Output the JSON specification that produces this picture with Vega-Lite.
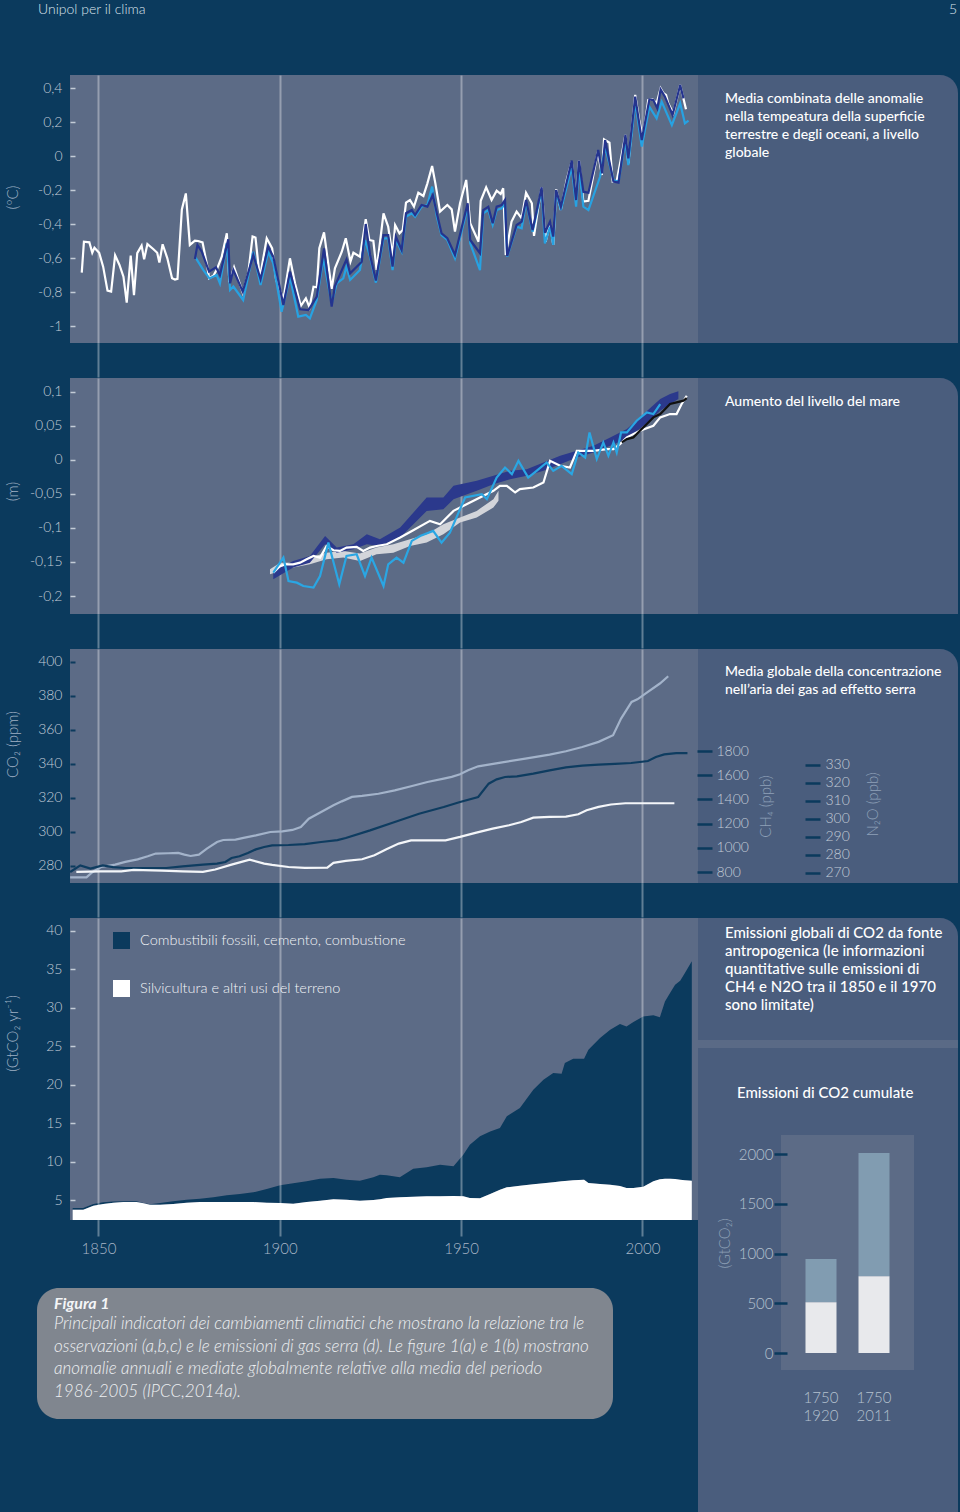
{
  "$schema": "https://vega.github.io/schema/vega-lite/v6.json",
  "padding": 0,
  "background": "#0b3a5d",
  "spacing": 0,
  "resolve": {"scale": {"color": "independent"}, "legend": {"color": "independent"}},
  "config": {
    "view": {"stroke": null},
    "font": "Lato",
    "axis": {"domain": false, "grid": false, "labelOverlap": false, "labelFont": "Lato", "labelFontWeight": 300, "labelFontSize": 14, "labelColor": "#c3ccd7", "titleFont": "Lato", "titleFontWeight": 300, "titleFontSize": 15, "titleColor": "#9fb0c4"},
    "title": {"font": "Lato", "color": "#ffffff", "fontSize": 15, "fontWeight": 500, "anchor": "start", "frame": "group", "lineHeight": 18},
    "legend": {"labelFont": "Lato"}
  },
  "datasets": {
    "tempHadCRUT4": [{"year":1845.4,"t":-0.686},{"year":1846.0,"t":-0.504},{"year":1847.5,"t":-0.508},{"year":1848.3,"t":-0.569},{"year":1848.9,"t":-0.539},{"year":1850.2,"t":-0.569},{"year":1851.3,"t":-0.651},{"year":1852.5,"t":-0.792},{"year":1853.5,"t":-0.798},{"year":1854.6,"t":-0.584},{"year":1855.8,"t":-0.641},{"year":1856.9,"t":-0.71},{"year":1857.8,"t":-0.863},{"year":1858.9,"t":-0.586},{"year":1859.8,"t":-0.818},{"year":1860.7,"t":-0.571},{"year":1861.9,"t":-0.527},{"year":1862.6,"t":-0.608},{"year":1863.5,"t":-0.518},{"year":1865.1,"t":-0.547},{"year":1866.2,"t":-0.569},{"year":1866.8,"t":-0.627},{"year":1867.7,"t":-0.519},{"year":1869.0,"t":-0.602},{"year":1870.3,"t":-0.719},{"year":1871.1,"t":-0.727},{"year":1871.8,"t":-0.723},{"year":1873.0,"t":-0.314},{"year":1874.1,"t":-0.22},{"year":1875.2,"t":-0.523},{"year":1876.6,"t":-0.498},{"year":1877.5,"t":-0.5},{"year":1878.7,"t":-0.508},{"year":1880.0,"t":-0.647},{"year":1880.5,"t":-0.719},{"year":1881.7,"t":-0.704},{"year":1882.6,"t":-0.67},{"year":1884.0,"t":-0.592},{"year":1885.4,"t":-0.455},{"year":1886.1,"t":-0.743},{"year":1887.4,"t":-0.655},{"year":1888.6,"t":-0.729},{"year":1889.8,"t":-0.804},{"year":1891.3,"t":-0.69},{"year":1892.5,"t":-0.474},{"year":1893.3,"t":-0.48},{"year":1894.5,"t":-0.719},{"year":1896.4,"t":-0.484},{"year":1897.9,"t":-0.543},{"year":1899.0,"t":-0.729},{"year":1901.0,"t":-0.843},{"year":1902.8,"t":-0.602},{"year":1904.2,"t":-0.749},{"year":1905.8,"t":-0.882},{"year":1907.2,"t":-0.837},{"year":1908.2,"t":-0.89},{"year":1909.3,"t":-0.769},{"year":1910.2,"t":-0.772},{"year":1910.9,"t":-0.543},{"year":1912.2,"t":-0.449},{"year":1914.3,"t":-0.782},{"year":1915.2,"t":-0.661},{"year":1917.1,"t":-0.563},{"year":1918.2,"t":-0.484},{"year":1919.5,"t":-0.621},{"year":1920.3,"t":-0.569},{"year":1922.1,"t":-0.592},{"year":1923.7,"t":-0.372},{"year":1924.7,"t":-0.494},{"year":1925.8,"t":-0.5},{"year":1926.7,"t":-0.67},{"year":1928.6,"t":-0.337},{"year":1929.9,"t":-0.416},{"year":1931.1,"t":-0.592},{"year":1931.8,"t":-0.406},{"year":1933.0,"t":-0.455},{"year":1933.9,"t":-0.435},{"year":1934.8,"t":-0.274},{"year":1935.9,"t":-0.259},{"year":1937.0,"t":-0.298},{"year":1938.2,"t":-0.216},{"year":1939.6,"t":-0.235},{"year":1940.7,"t":-0.161},{"year":1942.0,"t":-0.059},{"year":1942.9,"t":-0.161},{"year":1944.2,"t":-0.327},{"year":1946.2,"t":-0.288},{"year":1947.4,"t":-0.314},{"year":1948.3,"t":-0.445},{"year":1949.7,"t":-0.278},{"year":1951.4,"t":-0.141},{"year":1952.5,"t":-0.396},{"year":1954.8,"t":-0.504},{"year":1955.4,"t":-0.263},{"year":1956.9,"t":-0.184},{"year":1958.4,"t":-0.259},{"year":1959.8,"t":-0.204},{"year":1960.9,"t":-0.223},{"year":1961.6,"t":-0.19},{"year":1962.3,"t":-0.582},{"year":1963.9,"t":-0.386},{"year":1965.3,"t":-0.327},{"year":1966.7,"t":-0.367},{"year":1967.9,"t":-0.216},{"year":1969.5,"t":-0.278},{"year":1970.1,"t":-0.47},{"year":1971.3,"t":-0.298},{"year":1972.2,"t":-0.184},{"year":1973.3,"t":-0.504},{"year":1974.5,"t":-0.396},{"year":1975.4,"t":-0.523},{"year":1976.2,"t":-0.196},{"year":1977.5,"t":-0.317},{"year":1979.1,"t":-0.141},{"year":1980.5,"t":-0.033},{"year":1981.7,"t":-0.259},{"year":1982.5,"t":-0.027},{"year":1983.7,"t":-0.268},{"year":1985.1,"t":-0.263},{"year":1987.7,"t":0.026},{"year":1988.8,"t":-0.112},{"year":1989.4,"t":0.098},{"year":1990.9,"t":0.078},{"year":1991.8,"t":-0.151},{"year":1992.9,"t":-0.147},{"year":1995.3,"t":0.124},{"year":1996.1,"t":-0.043},{"year":1998.0,"t":0.359},{"year":1999.1,"t":0.212},{"year":2000.1,"t":0.104},{"year":2001.6,"t":0.329},{"year":2002.8,"t":0.333},{"year":2003.9,"t":0.31},{"year":2005.0,"t":0.398},{"year":2005.8,"t":0.369},{"year":2006.5,"t":0.359},{"year":2007.1,"t":0.31},{"year":2008.5,"t":0.251},{"year":2010.4,"t":0.418},{"year":2012.0,"t":0.275}],
    "tempMLOST": [{"year":1876.6,"t":-0.606},{"year":1877.3,"t":-0.523},{"year":1878.5,"t":-0.563},{"year":1880.5,"t":-0.68},{"year":1882.4,"t":-0.655},{"year":1883.5,"t":-0.7},{"year":1885.8,"t":-0.49},{"year":1886.3,"t":-0.749},{"year":1887.2,"t":-0.67},{"year":1889.8,"t":-0.798},{"year":1892.7,"t":-0.582},{"year":1894.7,"t":-0.725},{"year":1896.8,"t":-0.533},{"year":1898.2,"t":-0.592},{"year":1901.0,"t":-0.876},{"year":1902.8,"t":-0.68},{"year":1905.6,"t":-0.902},{"year":1907.9,"t":-0.906},{"year":1910.2,"t":-0.827},{"year":1912.2,"t":-0.543},{"year":1914.3,"t":-0.886},{"year":1915.2,"t":-0.765},{"year":1918.4,"t":-0.608},{"year":1919.4,"t":-0.69},{"year":1922.6,"t":-0.622},{"year":1923.7,"t":-0.4},{"year":1924.9,"t":-0.582},{"year":1926.5,"t":-0.733},{"year":1928.6,"t":-0.465},{"year":1929.9,"t":-0.465},{"year":1931.1,"t":-0.651},{"year":1932.0,"t":-0.474},{"year":1933.6,"t":-0.553},{"year":1934.8,"t":-0.337},{"year":1936.4,"t":-0.318},{"year":1937.3,"t":-0.347},{"year":1939.1,"t":-0.288},{"year":1940.7,"t":-0.298},{"year":1942.2,"t":-0.229},{"year":1943.3,"t":-0.337},{"year":1944.6,"t":-0.455},{"year":1946.2,"t":-0.484},{"year":1948.3,"t":-0.582},{"year":1951.8,"t":-0.278},{"year":1952.5,"t":-0.494},{"year":1955.2,"t":-0.572},{"year":1956.1,"t":-0.318},{"year":1957.5,"t":-0.298},{"year":1958.7,"t":-0.396},{"year":1959.8,"t":-0.298},{"year":1961.2,"t":-0.288},{"year":1962.1,"t":-0.259},{"year":1962.7,"t":-0.588},{"year":1965.3,"t":-0.406},{"year":1966.7,"t":-0.386},{"year":1967.9,"t":-0.259},{"year":1969.7,"t":-0.435},{"year":1972.2,"t":-0.184},{"year":1973.1,"t":-0.451},{"year":1974.5,"t":-0.386},{"year":1975.4,"t":-0.474},{"year":1976.2,"t":-0.2},{"year":1977.5,"t":-0.298},{"year":1980.5,"t":-0.027},{"year":1981.7,"t":-0.259},{"year":1982.5,"t":-0.027},{"year":1983.7,"t":-0.21},{"year":1985.1,"t":-0.216},{"year":1987.8,"t":0.035},{"year":1988.9,"t":-0.102},{"year":1989.7,"t":0.094},{"year":1992.0,"t":-0.151},{"year":1993.4,"t":-0.157},{"year":1995.3,"t":0.124},{"year":1996.1,"t":-0.014},{"year":1998.0,"t":0.349},{"year":1999.8,"t":0.094},{"year":2001.9,"t":0.333},{"year":2003.0,"t":0.329},{"year":2004.1,"t":0.28},{"year":2005.0,"t":0.392},{"year":2006.2,"t":0.349},{"year":2008.3,"t":0.241},{"year":2010.4,"t":0.418},{"year":2011.3,"t":0.339}],
    "tempGISS": [{"year":1876.6,"t":-0.592},{"year":1878.9,"t":-0.67},{"year":1880.6,"t":-0.72},{"year":1882.6,"t":-0.7},{"year":1883.5,"t":-0.749},{"year":1885.4,"t":-0.514},{"year":1886.3,"t":-0.788},{"year":1887.2,"t":-0.768},{"year":1889.9,"t":-0.847},{"year":1892.7,"t":-0.563},{"year":1894.7,"t":-0.759},{"year":1896.8,"t":-0.563},{"year":1898.2,"t":-0.631},{"year":1900.5,"t":-0.916},{"year":1902.8,"t":-0.71},{"year":1905.1,"t":-0.945},{"year":1907.2,"t":-0.935},{"year":1908.3,"t":-0.955},{"year":1910.2,"t":-0.847},{"year":1912.0,"t":-0.602},{"year":1914.3,"t":-0.867},{"year":1915.7,"t":-0.749},{"year":1917.5,"t":-0.72},{"year":1918.4,"t":-0.651},{"year":1919.4,"t":-0.729},{"year":1922.1,"t":-0.67},{"year":1923.5,"t":-0.494},{"year":1924.9,"t":-0.592},{"year":1926.5,"t":-0.745},{"year":1928.6,"t":-0.484},{"year":1929.9,"t":-0.484},{"year":1931.1,"t":-0.671},{"year":1932.0,"t":-0.494},{"year":1933.6,"t":-0.563},{"year":1934.8,"t":-0.357},{"year":1936.4,"t":-0.337},{"year":1937.3,"t":-0.357},{"year":1939.1,"t":-0.298},{"year":1940.7,"t":-0.288},{"year":1942.0,"t":-0.18},{"year":1943.3,"t":-0.357},{"year":1944.6,"t":-0.465},{"year":1946.2,"t":-0.494},{"year":1948.3,"t":-0.602},{"year":1951.8,"t":-0.298},{"year":1952.5,"t":-0.514},{"year":1955.2,"t":-0.671},{"year":1956.1,"t":-0.337},{"year":1957.5,"t":-0.318},{"year":1958.7,"t":-0.406},{"year":1959.8,"t":-0.318},{"year":1961.2,"t":-0.308},{"year":1962.1,"t":-0.278},{"year":1962.7,"t":-0.592},{"year":1965.3,"t":-0.416},{"year":1966.7,"t":-0.425},{"year":1967.9,"t":-0.268},{"year":1969.7,"t":-0.445},{"year":1972.2,"t":-0.2},{"year":1973.1,"t":-0.514},{"year":1974.5,"t":-0.416},{"year":1975.4,"t":-0.523},{"year":1976.2,"t":-0.21},{"year":1977.5,"t":-0.317},{"year":1980.5,"t":-0.063},{"year":1981.7,"t":-0.298},{"year":1982.5,"t":-0.063},{"year":1983.7,"t":-0.298},{"year":1985.1,"t":-0.318},{"year":1988.3,"t":-0.122},{"year":1989.7,"t":0.055},{"year":1992.0,"t":-0.141},{"year":1993.4,"t":-0.151},{"year":1995.3,"t":0.094},{"year":1996.1,"t":-0.053},{"year":1998.0,"t":0.32},{"year":1999.8,"t":0.055},{"year":2001.9,"t":0.29},{"year":2003.9,"t":0.222},{"year":2005.3,"t":0.32},{"year":2008.1,"t":0.182},{"year":2010.4,"t":0.31},{"year":2011.7,"t":0.192},{"year":2012.7,"t":0.208}],
    "seaBandCW": [{"year":1898.2,"v":-0.1632,"lo":-0.1755},{"year":1903.7,"v":-0.1485,"lo":-0.1583},{"year":1908.3,"v":-0.1412,"lo":-0.151},{"year":1912.5,"v":-0.1118,"lo":-0.124},{"year":1915.7,"v":-0.1289,"lo":-0.1363},{"year":1920.3,"v":-0.124,"lo":-0.1314},{"year":1924.0,"v":-0.1093,"lo":-0.124},{"year":1927.6,"v":-0.1167,"lo":-0.1265},{"year":1933.2,"v":-0.0995,"lo":-0.1142},{"year":1940.5,"v":-0.0554,"lo":-0.075},{"year":1945.1,"v":-0.0554,"lo":-0.0725},{"year":1947.9,"v":-0.0382,"lo":-0.0578},{"year":1954.3,"v":-0.0309,"lo":-0.0456},{"year":1958.9,"v":-0.0235,"lo":-0.0358},{"year":1963.5,"v":-0.0162,"lo":-0.0284},{"year":1968.1,"v":-0.0137,"lo":-0.0235},{"year":1972.7,"v":-0.0039,"lo":-0.0162},{"year":1977.3,"v":0.0059,"lo":-0.0064},{"year":1981.9,"v":0.0132,"lo":0.0034},{"year":1986.5,"v":0.0206,"lo":0.0108},{"year":1991.1,"v":0.0329,"lo":0.0206},{"year":1995.7,"v":0.0451,"lo":0.0304},{"year":2000.3,"v":0.0672,"lo":0.05},{"year":2004.9,"v":0.0892,"lo":0.0721},{"year":2007.6,"v":0.0966,"lo":0.0819},{"year":2009.9,"v":0.1005,"lo":0.0892}],
    "seaBandJ": [{"year":1897.3,"v":-0.1608,"lo":-0.1681},{"year":1900.1,"v":-0.151,"lo":-0.1632},{"year":1903.7,"v":-0.151,"lo":-0.1583},{"year":1908.3,"v":-0.1436,"lo":-0.1534},{"year":1912.9,"v":-0.1363,"lo":-0.1461},{"year":1917.5,"v":-0.1338,"lo":-0.1436},{"year":1922.1,"v":-0.1377,"lo":-0.1485},{"year":1926.7,"v":-0.1289,"lo":-0.1387},{"year":1931.3,"v":-0.124,"lo":-0.1363},{"year":1935.9,"v":-0.1167,"lo":-0.1265},{"year":1940.5,"v":-0.1093,"lo":-0.1216},{"year":1945.1,"v":-0.0946,"lo":-0.1093},{"year":1949.7,"v":-0.0848,"lo":-0.0922},{"year":1954.3,"v":-0.075,"lo":-0.0848},{"year":1958.9,"v":-0.0578,"lo":-0.0701},{"year":1960.3,"v":-0.0456,"lo":-0.0603}],
    "seaRD": [{"year":1898.2,"v":-0.1657},{"year":1900.1,"v":-0.1559},{"year":1901.9,"v":-0.1534},{"year":1903.7,"v":-0.1534},{"year":1905.6,"v":-0.151},{"year":1907.4,"v":-0.1461},{"year":1909.3,"v":-0.1412},{"year":1911.1,"v":-0.1436},{"year":1912.9,"v":-0.1265},{"year":1914.8,"v":-0.1328},{"year":1916.6,"v":-0.1338},{"year":1918.4,"v":-0.1289},{"year":1921.2,"v":-0.1279},{"year":1923.0,"v":-0.1338},{"year":1924.9,"v":-0.1289},{"year":1926.7,"v":-0.1265},{"year":1929.5,"v":-0.124},{"year":1933.2,"v":-0.1142},{"year":1936.8,"v":-0.1034},{"year":1941.4,"v":-0.0897},{"year":1944.2,"v":-0.0946},{"year":1947.9,"v":-0.075},{"year":1951.5,"v":-0.0652},{"year":1955.2,"v":-0.0554},{"year":1958.9,"v":-0.0456},{"year":1960.7,"v":-0.0382},{"year":1962.6,"v":-0.0382},{"year":1964.9,"v":-0.048},{"year":1966.2,"v":-0.0431},{"year":1969.9,"v":-0.0407},{"year":1972.7,"v":-0.0333},{"year":1974.5,"v":-0.0015},{"year":1977.3,"v":-0.0088},{"year":1980.0,"v":-0.0113},{"year":1981.9,"v":0.0132},{"year":1986.5,"v":0.0132},{"year":1990.1,"v":0.0157},{"year":1992.0,"v":0.0157},{"year":1993.8,"v":0.023},{"year":1995.7,"v":0.0329},{"year":1999.3,"v":0.0426},{"year":2003.0,"v":0.05},{"year":2004.9,"v":0.0623},{"year":2007.6,"v":0.0672},{"year":2009.4,"v":0.0672},{"year":2010.8,"v":0.0819},{"year":2012.2,"v":0.0941}],
    "seaJev": [{"year":1898.2,"v":-0.1657},{"year":1901.0,"v":-0.1436},{"year":1902.4,"v":-0.1779},{"year":1904.7,"v":-0.1804},{"year":1906.5,"v":-0.1853},{"year":1909.3,"v":-0.1877},{"year":1911.1,"v":-0.1706},{"year":1913.4,"v":-0.1216},{"year":1916.4,"v":-0.1828},{"year":1918.4,"v":-0.1412},{"year":1921.2,"v":-0.1387},{"year":1923.5,"v":-0.1706},{"year":1925.3,"v":-0.1436},{"year":1928.6,"v":-0.1853},{"year":1929.9,"v":-0.1534},{"year":1932.2,"v":-0.1436},{"year":1934.1,"v":-0.151},{"year":1936.4,"v":-0.1191},{"year":1938.7,"v":-0.1118},{"year":1942.3,"v":-0.1044},{"year":1944.6,"v":-0.1216},{"year":1946.9,"v":-0.1069},{"year":1949.7,"v":-0.0725},{"year":1951.1,"v":-0.0554},{"year":1955.7,"v":-0.0505},{"year":1957.1,"v":-0.0578},{"year":1959.8,"v":-0.026},{"year":1962.1,"v":-0.0113},{"year":1964.0,"v":-0.0211},{"year":1965.8,"v":-0.0015},{"year":1968.5,"v":-0.026},{"year":1970.8,"v":-0.0162},{"year":1973.6,"v":-0.0039},{"year":1975.4,"v":-0.0162},{"year":1977.7,"v":-0.0088},{"year":1980.5,"v":-0.0211},{"year":1982.3,"v":0.0108},{"year":1984.2,"v":0.0034},{"year":1985.4,"v":0.0402},{"year":1987.4,"v":0.001},{"year":1989.2,"v":0.0255},{"year":1990.6,"v":0.0059},{"year":1992.0,"v":0.0255},{"year":1992.9,"v":0.0108},{"year":1994.1,"v":0.0402},{"year":1995.7,"v":0.0402},{"year":1998.4,"v":0.0574},{"year":2001.2,"v":0.0696},{"year":2003.0,"v":0.0672},{"year":2004.9,"v":0.0819}],
    "seaSat": [{"year":1994.3,"v":0.0255},{"year":1995.7,"v":0.0304},{"year":1997.5,"v":0.0329},{"year":1999.3,"v":0.0426},{"year":2001.2,"v":0.0525},{"year":2003.0,"v":0.0623},{"year":2004.9,"v":0.0672},{"year":2007.6,"v":0.0819},{"year":2009.4,"v":0.0843},{"year":2011.3,"v":0.0868},{"year":2012.2,"v":0.0907}],
    "ghgCO2": [{"year":1842.2,"c":273.3},{"year":1846.7,"c":273.3},{"year":1848.4,"c":276.5},{"year":1850.7,"c":279.4},{"year":1854.6,"c":280.8},{"year":1857.4,"c":282.4},{"year":1860.8,"c":283.9},{"year":1863.6,"c":285.7},{"year":1865.8,"c":287.3},{"year":1869.2,"c":287.5},{"year":1872.0,"c":287.7},{"year":1873.7,"c":286.7},{"year":1875.4,"c":285.9},{"year":1877.7,"c":286.7},{"year":1879.9,"c":290.2},{"year":1882.7,"c":294.1},{"year":1884.4,"c":295.3},{"year":1887.8,"c":295.5},{"year":1890.0,"c":296.5},{"year":1893.4,"c":298.0},{"year":1897.4,"c":300.0},{"year":1900.7,"c":300.4},{"year":1903.5,"c":301.2},{"year":1905.8,"c":302.9},{"year":1908.0,"c":307.8},{"year":1911.4,"c":311.8},{"year":1914.8,"c":315.7},{"year":1917.1,"c":318.0},{"year":1919.9,"c":320.6},{"year":1922.7,"c":321.2},{"year":1927.2,"c":322.5},{"year":1931.7,"c":324.5},{"year":1936.2,"c":326.9},{"year":1940.7,"c":329.4},{"year":1945.2,"c":331.4},{"year":1947.4,"c":332.4},{"year":1949.7,"c":333.9},{"year":1951.9,"c":336.3},{"year":1954.7,"c":338.6},{"year":1960.9,"c":340.8},{"year":1967.7,"c":343.1},{"year":1974.4,"c":345.5},{"year":1978.9,"c":347.5},{"year":1983.4,"c":350.0},{"year":1987.9,"c":353.0},{"year":1991.9,"c":356.9},{"year":1994.1,"c":366.7},{"year":1997.0,"c":376.5},{"year":1998.6,"c":378.0},{"year":2001.5,"c":382.4},{"year":2004.8,"c":387.3},{"year":2007.1,"c":391.6}],
    "ghgCH4": [{"year":1842.2,"c":800},{"year":1845.0,"c":855},{"year":1847.8,"c":828},{"year":1851.2,"c":855},{"year":1854.0,"c":841},{"year":1857.4,"c":833},{"year":1861.9,"c":833},{"year":1868.7,"c":833},{"year":1873.2,"c":847},{"year":1878.8,"c":861},{"year":1882.7,"c":869},{"year":1885.0,"c":883},{"year":1886.7,"c":916},{"year":1888.9,"c":930},{"year":1891.2,"c":957},{"year":1893.4,"c":987},{"year":1895.7,"c":1007},{"year":1897.9,"c":1020},{"year":1902.4,"c":1023},{"year":1906.9,"c":1031},{"year":1911.4,"c":1048},{"year":1915.9,"c":1064},{"year":1918.2,"c":1081},{"year":1924.9,"c":1144},{"year":1931.7,"c":1213},{"year":1938.4,"c":1282},{"year":1945.2,"c":1337},{"year":1949.7,"c":1379},{"year":1954.7,"c":1420},{"year":1957.6,"c":1530},{"year":1959.8,"c":1566},{"year":1962.1,"c":1585},{"year":1965.4,"c":1591},{"year":1969.9,"c":1613},{"year":1974.4,"c":1640},{"year":1978.9,"c":1665},{"year":1983.4,"c":1679},{"year":1987.9,"c":1687},{"year":1992.4,"c":1693},{"year":1996.9,"c":1701},{"year":2001.5,"c":1717},{"year":2003.7,"c":1750},{"year":2006.0,"c":1772},{"year":2009.3,"c":1783},{"year":2012.4,"c":1783}],
    "ghgN2O": [{"year":1843.9,"c":270.6},{"year":1850.7,"c":270.9},{"year":1856.3,"c":270.9},{"year":1859.7,"c":271.7},{"year":1867.5,"c":271.3},{"year":1873.2,"c":270.9},{"year":1878.8,"c":270.6},{"year":1882.2,"c":271.9},{"year":1886.7,"c":274.6},{"year":1891.7,"c":277.4},{"year":1895.7,"c":275.2},{"year":1897.9,"c":274.5},{"year":1902.4,"c":273.3},{"year":1906.9,"c":272.8},{"year":1913.1,"c":272.9},{"year":1914.8,"c":275.6},{"year":1918.2,"c":276.7},{"year":1922.7,"c":277.6},{"year":1926.1,"c":279.8},{"year":1929.4,"c":283.1},{"year":1932.8,"c":286.3},{"year":1936.2,"c":288.1},{"year":1940.7,"c":288.1},{"year":1945.7,"c":288.1},{"year":1949.7,"c":290.0},{"year":1954.2,"c":292.4},{"year":1958.7,"c":294.6},{"year":1963.2,"c":296.5},{"year":1966.6,"c":298.3},{"year":1969.9,"c":300.7},{"year":1974.4,"c":301.1},{"year":1978.9,"c":301.3},{"year":1982.3,"c":302.6},{"year":1984.6,"c":304.8},{"year":1987.9,"c":306.7},{"year":1991.3,"c":308.0},{"year":1995.3,"c":308.7},{"year":1999.2,"c":308.7},{"year":2003.7,"c":308.7},{"year":2008.8,"c":308.7}],
    "emissions": [{"year":1842.9,"fossil":0.22,"forestry":3.74},{"year":1845.8,"fossil":0.22,"forestry":3.74},{"year":1848.6,"fossil":0.22,"forestry":4.26},{"year":1851.3,"fossil":0.22,"forestry":4.48},{"year":1854.1,"fossil":0.17,"forestry":4.65},{"year":1856.9,"fossil":0.09,"forestry":4.74},{"year":1860.5,"fossil":0.09,"forestry":4.74},{"year":1862.4,"fossil":0.04,"forestry":4.57},{"year":1864.2,"fossil":0.05,"forestry":4.39},{"year":1867.0,"fossil":0.22,"forestry":4.39},{"year":1870.6,"fossil":0.35,"forestry":4.48},{"year":1874.3,"fossil":0.39,"forestry":4.65},{"year":1878.0,"fossil":0.43,"forestry":4.74},{"year":1881.7,"fossil":0.61,"forestry":4.74},{"year":1885.4,"fossil":0.87,"forestry":4.74},{"year":1889.0,"fossil":1.04,"forestry":4.74},{"year":1892.7,"fossil":1.26,"forestry":4.74},{"year":1896.4,"fossil":1.78,"forestry":4.65},{"year":1900.1,"fossil":2.3,"forestry":4.61},{"year":1903.7,"fossil":2.65,"forestry":4.52},{"year":1907.4,"fossil":2.69,"forestry":4.74},{"year":1911.1,"fossil":2.86,"forestry":4.91},{"year":1914.8,"fossil":2.78,"forestry":5.09},{"year":1918.4,"fossil":2.6,"forestry":5.04},{"year":1922.1,"fossil":2.6,"forestry":4.91},{"year":1925.8,"fossil":2.95,"forestry":5.0},{"year":1927.6,"fossil":3.21,"forestry":5.09},{"year":1929.5,"fossil":2.95,"forestry":5.26},{"year":1933.1,"fossil":2.6,"forestry":5.35},{"year":1936.8,"fossil":3.64,"forestry":5.43},{"year":1940.5,"fossil":3.77,"forestry":5.48},{"year":1944.2,"fossil":4.12,"forestry":5.48},{"year":1947.9,"fossil":3.86,"forestry":5.52},{"year":1950.6,"fossil":5.42,"forestry":5.48},{"year":1952.4,"fossil":6.94,"forestry":5.26},{"year":1955.2,"fossil":8.07,"forestry":5.22},{"year":1958.0,"fossil":8.15,"forestry":5.78},{"year":1960.7,"fossil":8.02,"forestry":6.34},{"year":1962.6,"fossil":9.24,"forestry":6.65},{"year":1966.2,"fossil":10.1,"forestry":6.86},{"year":1969.9,"fossil":12.32,"forestry":7.04},{"year":1972.7,"fossil":13.49,"forestry":7.17},{"year":1975.4,"fossil":14.22,"forestry":7.3},{"year":1977.7,"fossil":14.01,"forestry":7.43},{"year":1978.6,"fossil":15.35,"forestry":7.47},{"year":1980.9,"fossil":15.83,"forestry":7.56},{"year":1983.9,"fossil":15.74,"forestry":7.64},{"year":1985.1,"fossil":17.35,"forestry":7.21},{"year":1988.3,"fossil":19.0,"forestry":7.08},{"year":1991.1,"fossil":20.17,"forestry":6.99},{"year":1993.8,"fossil":21.08,"forestry":6.82},{"year":1995.6,"fossil":21.03,"forestry":6.56},{"year":1997.5,"fossil":21.6,"forestry":6.56},{"year":2000.2,"fossil":22.16,"forestry":6.73},{"year":2003.0,"fossil":21.6,"forestry":7.43},{"year":2004.8,"fossil":21.08,"forestry":7.69},{"year":2006.2,"fossil":23.07,"forestry":7.77},{"year":2007.6,"fossil":24.16,"forestry":7.77},{"year":2009.0,"fossil":25.28,"forestry":7.73},{"year":2010.4,"fossil":25.89,"forestry":7.64},{"year":2011.7,"fossil":26.98,"forestry":7.56},{"year":2013.6,"fossil":28.54,"forestry":7.51}],
    "cumulative": [{"period":"1750-1920","forestry":510,"total":946},{"period":"1750-2011","forestry":772,"total":2012}]
  },
  "vconcat": [
    {
      "hconcat": [
        {"width": 480, "height": 75, "data": {"values": []}, "mark": "point", "title": {"text": "Unipol per il clima", "anchor": "start", "dx": 38, "offset": -17, "fontSize": 14, "fontWeight": 300, "color": "#dbe3ec"}},
        {"width": 480, "height": 75, "data": {"values": []}, "mark": "point", "title": {"text": "5", "anchor": "end", "dx": -3, "offset": -17, "fontSize": 14, "fontWeight": 300, "color": "#dbe3ec"}}
      ],
      "spacing": 0, "bounds": "flush"
    },
    {
      "hconcat": [
        {"width": 70, "height": 268, "data": {"values": []}, "mark": "point"},
        {
          "width": 628, "height": 268,
          "view": {"fill": "#5c6b86"},
          "encoding": {
            "x": {"field": "year", "type": "quantitative", "scale": {"domain": [1842.16, 2015.31], "nice": false, "zero": false},
                  "axis": {"values": [1850, 1900, 1950, 2000], "grid": true, "gridColor": "#ffffff", "gridOpacity": 0.35, "gridWidth": 2, "ticks": true, "tickSize": 34, "tickColor": "#ffffff", "tickOpacity": 0.35, "tickWidth": 2, "labels": false, "title": null}},
            "y": {"field": "t", "type": "quantitative", "scale": {"domain": [-1.1, 0.4765], "nice": false, "zero": false},
                  "axis": {"values": [-1, -0.8, -0.6, -0.4, -0.2, 0, 0.2, 0.4], "labelExpr": "replace(replace(format(datum.value, '.1~f'), '.', ','), '\u2212', '-')", "tickSize": -5, "tickWidth": 1.5, "tickColor": "#c3ccd7", "labelPadding": 13, "title": "(ºC)", "titleX": -58, "titleY": 122, "titleBaseline": "middle", "titleAlign": "center"}}
          },
          "layer": [
            {"data": {"name": "tempHadCRUT4"}, "mark": {"type": "line", "color": "#ffffff", "strokeWidth": 2.2, "clip": true}},
            {"data": {"name": "tempGISS"}, "mark": {"type": "line", "color": "#27a2e2", "strokeWidth": 2.2, "clip": true}},
            {"data": {"name": "tempMLOST"}, "mark": {"type": "line", "color": "#24348e", "strokeWidth": 2.2, "clip": true}}
          ]
        },
        {
          "width": 260, "height": 268,
          "data": {"values": [{}]},
          "mark": {"type": "rect", "color": "#4a5d7d", "cornerRadiusTopRight": 18},
          "title": {"text": ["Media combinata delle anomalie", "nella tempeatura della superficie", "terrestre e degli oceani, a livello", "globale"], "dx": 27, "offset": -84.5, "fontSize": 14}
        }
      ],
      "spacing": 0, "bounds": "flush"
    },
    {
      "hconcat": [
        {"width": 70, "height": 236, "data": {"values": []}, "mark": "point"},
        {
          "width": 628, "height": 236,
          "view": {"fill": "#5c6b86"},
          "encoding": {
            "x": {"field": "year", "type": "quantitative", "scale": {"domain": [1842.16, 2015.31], "nice": false, "zero": false},
                  "axis": {"values": [1850, 1900, 1950, 2000], "grid": true, "gridColor": "#ffffff", "gridOpacity": 0.35, "gridWidth": 2, "ticks": true, "tickSize": 34, "tickColor": "#ffffff", "tickOpacity": 0.35, "tickWidth": 2, "labels": false, "title": null}},
            "y": {"field": "v", "type": "quantitative", "scale": {"domain": [-0.2264, 0.1201], "nice": false, "zero": false},
                  "axis": {"values": [-0.2, -0.15, -0.1, -0.05, 0, 0.05, 0.1], "labelExpr": "replace(replace(format(datum.value, '.2~f'), '.', ','), '\u2212', '-')", "tickSize": -5, "tickWidth": 1.5, "tickColor": "#c3ccd7", "labelPadding": 13, "title": "(m)", "titleX": -58, "titleY": 113, "titleBaseline": "middle", "titleAlign": "center"}}
          },
          "layer": [
            {"data": {"name": "seaBandJ"}, "mark": {"type": "area", "color": "#d3d5da", "clip": true}, "encoding": {"y2": {"field": "lo"}}},
            {"data": {"name": "seaBandCW"}, "mark": {"type": "area", "color": "#2b398c", "clip": true}, "encoding": {"y2": {"field": "lo"}}},
            {"data": {"name": "seaRD"}, "mark": {"type": "line", "color": "#ffffff", "strokeWidth": 2.2, "clip": true}},
            {"data": {"name": "seaJev"}, "mark": {"type": "line", "color": "#2aa6e3", "strokeWidth": 2.2, "clip": true}},
            {"data": {"name": "seaSat"}, "mark": {"type": "line", "color": "#111111", "strokeWidth": 2.2, "clip": true}}
          ]
        },
        {
          "width": 260, "height": 236,
          "data": {"values": [{}]},
          "mark": {"type": "rect", "color": "#4a5d7d", "cornerRadiusTopRight": 18},
          "title": {"text": "Aumento del livello del mare", "dx": 27, "offset": -30.5, "fontSize": 14}
        }
      ],
      "spacing": 0, "bounds": "flush"
    },
    {
      "hconcat": [
        {"width": 70, "height": 234, "data": {"values": []}, "mark": "point"},
        {
          "width": 628, "height": 234,
          "view": {"fill": "#5c6b86"},
          "encoding": {
            "x": {"field": "year", "type": "quantitative", "scale": {"domain": [1842.16, 2015.31], "nice": false, "zero": false},
                  "axis": {"values": [1850, 1900, 1950, 2000], "grid": true, "gridColor": "#ffffff", "gridOpacity": 0.35, "gridWidth": 2, "ticks": true, "tickSize": 34, "tickColor": "#ffffff", "tickOpacity": 0.35, "tickWidth": 2, "labels": false, "title": null}}
          },
          "layer": [
            {"data": {"name": "ghgCO2"}, "mark": {"type": "line", "color": "#a3b3ca", "strokeWidth": 2.2, "clip": true},
             "encoding": {"y": {"field": "c", "type": "quantitative", "scale": {"domain": [270, 407.6], "nice": false, "zero": false},
               "axis": {"values": [280, 300, 320, 340, 360, 380, 400], "format": "d", "tickSize": -5, "tickWidth": 2, "tickColor": "#0b3a5d", "labelPadding": 13, "title": "CO₂ (ppm)", "titleX": -58, "titleY": 95, "titleBaseline": "middle", "titleAlign": "center"}}}},
            {"data": {"name": "ghgCH4"}, "mark": {"type": "line", "color": "#0e3c60", "strokeWidth": 2.2, "clip": true},
             "encoding": {"y": {"field": "c", "type": "quantitative", "scale": {"domain": [709.1, 2643], "nice": false, "zero": false}, "axis": null}}},
            {"data": {"name": "ghgN2O"}, "mark": {"type": "line", "color": "#f4f6f9", "strokeWidth": 2.2, "clip": true},
             "encoding": {"y": {"field": "c", "type": "quantitative", "scale": {"domain": [264.4, 394.4], "nice": false, "zero": false}, "axis": null}}}
          ],
          "resolve": {"scale": {"y": "independent"}, "axis": {"y": "independent"}}
        },
        {
          "width": 260, "height": 234,
          "title": {"text": ["Media globale della concentrazione", "nell’aria dei gas ad effetto serra"], "dx": 27, "offset": -47.5, "fontSize": 14},
          "layer": [
            {"data": {"values": [{}]}, "mark": {"type": "rect", "color": "#4a5d7d", "cornerRadiusTopRight": 18}},
            {"data": {"name": "ghgCH4"}, "mark": {"type": "point", "opacity": 0},
             "encoding": {"x": {"field": "year", "type": "quantitative", "axis": null},
                          "y": {"field": "c", "type": "quantitative", "scale": {"domain": [709.1, 2643], "nice": false, "zero": false},
               "axis": {"orient": "right", "offset": -261, "zindex": 1, "values": [800, 1000, 1200, 1400, 1600, 1800], "format": "d", "tickSize": 15, "tickWidth": 2.5, "tickColor": "#0b3a5d", "labelPadding": 4, "labelFontSize": 14, "title": "CH₄ (ppb)", "titleAngle": 270, "titleX": 68, "titleY": 157, "titleBaseline": "middle", "titleAlign": "center", "titleColor": "#8ea0b8"}}}},
            {"data": {"name": "ghgN2O"}, "mark": {"type": "point", "opacity": 0},
             "encoding": {"x": {"field": "year", "type": "quantitative", "axis": null},
                          "y": {"field": "c", "type": "quantitative", "scale": {"domain": [264.4, 394.4], "nice": false, "zero": false},
               "axis": {"orient": "right", "offset": -153, "zindex": 1, "values": [270, 280, 290, 300, 310, 320, 330], "format": "d", "tickSize": 15, "tickWidth": 2.5, "tickColor": "#0b3a5d", "labelPadding": 5, "labelFontSize": 14, "title": "N₂O (ppb)", "titleAngle": 270, "titleX": 67, "titleY": 155, "titleBaseline": "middle", "titleAlign": "center", "titleColor": "#8ea0b8"}}}}
          ],
          "resolve": {"scale": {"y": "independent"}, "axis": {"y": "independent"}}
        }
      ],
      "spacing": 0, "bounds": "flush"
    },
    {
      "resolve": {"scale": {"color": "independent"}, "legend": {"color": "independent"}},
      "hconcat": [
        {
          "resolve": {"scale": {"color": "independent"}, "legend": {"color": "independent"}},
          "vconcat": [
            {
              "resolve": {"scale": {"color": "independent"}, "legend": {"color": "independent"}},
              "hconcat": [
                {"width": 70, "height": 302, "data": {"values": []}, "mark": "point"},
                {
                  "width": 628, "height": 302,
                  "view": {"fill": "#5c6b86"},
                  "data": {"name": "emissions"},
                  "transform": [{"fold": ["fossil", "forestry"], "as": ["type", "value"]}],
                  "mark": {"type": "area", "clip": true},
                  "encoding": {
                    "x": {"field": "year", "type": "quantitative", "scale": {"domain": [1842.16, 2015.31], "nice": false, "zero": false},
                          "axis": {"values": [1850, 1900, 1950, 2000], "format": "d", "grid": true, "gridColor": "#ffffff", "gridOpacity": 0.35, "gridWidth": 2, "ticks": true, "tickSize": 16, "tickColor": "#ffffff", "tickOpacity": 0.35, "tickWidth": 2, "labelPadding": 5, "labelFontSize": 15, "labelColor": "#a9b6c7", "title": null, "zindex": 1}},
                    "y": {"field": "value", "type": "quantitative", "stack": "zero", "scale": {"domain": [2.4, 41.69], "nice": false, "zero": false},
                          "axis": {"values": [5, 10, 15, 20, 25, 30, 35, 40], "format": "d", "tickSize": -5, "tickWidth": 1.5, "tickColor": "#c3ccd7", "labelPadding": 13, "title": "(GtCO₂ yr⁻¹)", "titleX": -58, "titleY": 115, "titleBaseline": "middle", "titleAlign": "center"}},
                    "color": {"field": "type", "type": "nominal", "scale": {"domain": ["fossil", "forestry"], "range": ["#0b3a5d", "#ffffff"]},
                              "legend": {"orient": "none", "legendX": 43, "legendY": 14, "title": null, "symbolType": "square", "symbolSize": 289, "symbolStrokeWidth": 0, "symbolOpacity": 1, "labelFontSize": 14.5, "labelFontWeight": 300, "labelColor": "#f2f4f7", "labelOffset": 10, "rowPadding": 31, "padding": 0, "labelLimit": 400,
                                         "labelExpr": "datum.value == 'fossil' ? 'Combustibili fossili, cemento, combustione' : 'Silvicultura e altri usi del terreno'"}},
                    "order": {"field": "type", "sort": "ascending"}
                  }
                }
              ],
              "spacing": 0, "bounds": "flush"
            },
            {
              "hconcat": [
                {"width": 37, "height": 131, "data": {"values": []}, "mark": "point"},
                {
                  "width": 576, "height": 131,
                  "view": {"fill": "#80868f", "cornerRadius": 22},
                  "data": {"values": []}, "mark": "point",
                  "title": {"text": "Figura 1", "subtitle": ["Principali indicatori dei cambiamenti climatici che mostrano la relazione tra le", "osservazioni (a,b,c) e le emissioni di gas serra (d). Le figure 1(a) e 1(b) mostrano", "anomalie annuali e mediate globalmente relative alla media del periodo", "1986-2005 (IPCC,2014a)."],
                            "dx": 17, "offset": -111.5, "fontSize": 16, "fontStyle": "italic", "fontWeight": 700, "color": "#f4f5f7",
                            "subtitleFont": "Lato", "subtitleFontStyle": "italic", "subtitleFontWeight": 300, "subtitleFontSize": 17, "subtitleColor": "#eef0f2", "subtitleLineHeight": 22.5, "subtitlePadding": 4}
                }
              ],
              "spacing": 0, "bounds": "flush"
            }
          ],
          "spacing": 32
        },
        {
          "vconcat": [
            {
              "width": 260, "height": 122,
              "data": {"values": [{}]},
              "mark": {"type": "rect", "color": "#4a5d7d", "cornerRadiusTopRight": 18},
              "title": {"text": ["Emissioni globali di CO2 da fonte", "antropogenica (le informazioni", "quantitative sulle emissioni di", "CH4 e N2O tra il 1850 e il 1970", "sono limitate)"], "dx": 27, "offset": -94.5, "fontSize": 15}
            },
            {"width": 260, "height": 8, "view": {"fill": "#5a6a86"}, "data": {"values": []}, "mark": "point"},
            {
              "vconcat": [
                {"width": 260, "height": 87, "view": {"fill": "#4a5d7d"}, "data": {"values": []}, "mark": "point",
                 "title": {"text": "Emissioni di CO2 cumulate", "dx": 39, "offset": -52.5, "fontSize": 15}},
                {
                  "hconcat": [
                    {"width": 83, "height": 235, "view": {"fill": "#4a5d7d"}, "data": {"values": []}, "mark": "point"},
                    {
                      "width": 133, "height": 235,
                      "view": {"fill": "#5c6b86"},
                      "data": {"name": "cumulative"},
                      "encoding": {
                        "x": {"field": "period", "type": "nominal", "scale": {"paddingInner": 0.415, "paddingOuter": 0.462}, "axis": null}
                      },
                      "layer": [
                        {"mark": {"type": "bar", "color": "#819cb1"},
                         "encoding": {
                           "y": {"field": "total", "type": "quantitative", "scale": {"domain": [-171, 2193], "nice": false, "zero": false},
                                 "axis": {"values": [0, 500, 1000, 1500, 2000], "format": "d", "offset": -6, "tickSize": 13, "tickWidth": 2.5, "tickColor": "#0b3a5d", "labelPadding": 1, "labelFontSize": 15, "labelColor": "#b5c1cf", "title": "(GtCO₂)", "titleX": -63, "titleY": 108, "titleBaseline": "middle", "titleAlign": "center", "titleColor": "#8ea0b6"}},
                           "y2": {"field": "forestry"}}},
                        {"mark": {"type": "bar", "color": "#e8e9ec"},
                         "encoding": {"y": {"field": "forestry", "type": "quantitative"}}}
                      ]
                    },
                    {"width": 44, "height": 235, "view": {"fill": "#4a5d7d"}, "data": {"values": []}, "mark": "point"}
                  ],
                  "spacing": 0, "bounds": "flush"
                },
                {
                  "hconcat": [
                    {"width": 83, "height": 145, "view": {"fill": "#4a5d7d"}, "data": {"values": []}, "mark": "point"},
                    {
                      "width": 133, "height": 145,
                      "view": {"fill": "#4a5d7d"},
                      "data": {"name": "cumulative"},
                      "mark": {"type": "tick", "opacity": 0},
                      "encoding": {
                        "x": {"field": "period", "type": "nominal", "scale": {"paddingInner": 0.415, "paddingOuter": 0.462},
                              "axis": {"orient": "bottom", "offset": -125, "ticks": false, "labelAngle": 0, "labelExpr": "split(datum.label, '-')", "labelLineHeight": 18, "labelPadding": 0, "labelFontSize": 15, "labelColor": "#b5c1cf", "title": null}}
                      }
                    },
                    {"width": 44, "height": 145, "view": {"fill": "#4a5d7d"}, "data": {"values": []}, "mark": "point"}
                  ],
                  "spacing": 0, "bounds": "flush"
                }
              ],
              "spacing": 0
            }
          ],
          "spacing": 0
        }
      ],
      "spacing": 0
    }
  ]
}
